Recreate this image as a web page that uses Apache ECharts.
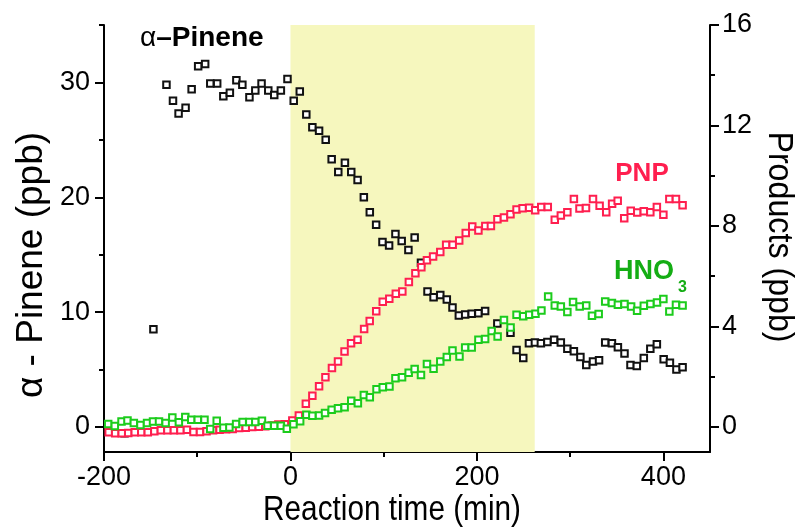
<!DOCTYPE html>
<html>
<head>
<meta charset="utf-8">
<script src="https://cdn.jsdelivr.net/npm/echarts@6/dist/echarts.min.js"></script>
<style>
  html, body { margin: 0; padding: 0; background: #fff; }
  #chart { width: 800px; height: 529px; }
</style>
</head>
<body>
<div id="chart"></div>
<script>
// Reaction time (min) vs concentration, [time, value] pairs.
// alpha-pinene on the left axis (ppb)
const pinene = [
  [-178, -0.55], [-147, 8.5],
  [-133, 29.8], [-126, 28.4], [-120, 27.3], [-112.5, 27.8], [-106, 29.4], [-99, 31.4],
  [-91.5, 31.6], [-86, 29.9], [-78.6, 29.9], [-72, 28.8], [-65, 29.1], [-58, 30.2],
  [-51.6, 29.8], [-44, 28.7], [-37.7, 29.3], [-31, 29.9], [-23.8, 29.3], [-17.4, 28.9],
  [-10.3, 29.3], [-3.2, 30.3], [3.5, 28.4], [10, 29.2], [17, 27.2], [23.5, 26.1],
  [30.7, 25.8], [37.8, 25.0], [44.2, 23.3], [51.3, 22.2], [58.4, 23.0], [65.2, 22.2],
  [72, 21.5], [78.7, 20.0], [85.1, 18.7], [91.9, 17.6], [98.7, 16.1], [105.8, 15.8],
  [112.6, 16.8], [119.3, 16.2], [126.5, 15.4], [133.2, 16.5], [140, 14.3], [147, 11.8],
  [153.5, 11.3], [160.7, 11.5], [167.7, 11.1], [173.8, 10.4], [180.6, 9.7], [187.4, 9.8],
  [194.4, 9.85], [201.6, 9.9], [208.8, 10.1], [221.9, 9.0], [236, 8.2], [242.5, 6.7],
  [249.7, 6.0], [255.8, 7.3], [262.2, 7.35], [268.6, 7.3], [275.6, 7.4], [282.8, 7.6],
  [290, 7.35], [297, 6.8], [304, 6.6], [311, 6.1], [317.3, 5.4], [324.5, 5.7],
  [331, 5.8], [337.6, 7.35], [344.8, 7.3], [351.2, 6.95], [358.3, 6.4], [364.7, 5.4],
  [371.5, 5.3], [379, 6.0], [386, 6.8], [393, 7.2], [400.3, 5.9], [407, 5.6],
  [414, 5.0], [420.6, 5.2]
];

// PNP on the right axis (ppb)
const pnp = [
  [-195, -0.21], [-188, -0.25], [-181, -0.25], [-174, -0.24], [-167, -0.21], [-160, -0.21],
  [-153, -0.21], [-146, -0.17], [-139, -0.13], [-132, -0.13], [-125, -0.13], [-118, -0.13],
  [-111, -0.11], [-104, -0.2], [-97, -0.2], [-90, -0.17], [-83, -0.13], [-76, -0.11],
  [-69, -0.09], [-62, -0.08], [-55, -0.04], [-48, -0.03], [-41, 0.0], [-34, 0.01],
  [-27, 0.03], [-20, 0.06], [-13, 0.09], [-6, 0.1], [2, 0.25], [9, 0.45],
  [16.5, 0.92], [23.5, 1.24], [30.7, 1.62], [37.5, 1.98], [44.5, 2.34], [51, 2.6],
  [58, 3.0], [65, 3.33], [72, 3.47], [79, 3.9], [85, 4.22], [92, 4.6],
  [99, 4.98], [106, 5.1], [113, 5.3], [120, 5.39], [127, 5.77], [134, 6.12],
  [140.4, 6.36], [146.4, 6.63], [153, 6.78], [160.7, 6.96], [167, 7.25], [174, 7.25],
  [181, 7.42], [188, 7.72], [195, 7.98], [201.6, 7.82], [209, 8.0], [215, 8.0],
  [222, 8.27], [229, 8.34], [236, 8.47], [242.5, 8.65], [249, 8.7], [256, 8.72],
  [262.5, 8.62], [269, 8.75], [276, 8.75], [283.5, 8.25], [290, 8.42], [297, 8.55],
  [304, 9.07], [310, 8.69], [317, 8.71], [324.5, 9.07], [331.6, 8.8], [338.7, 8.55],
  [345, 8.88], [351, 9.0], [358, 8.31], [365, 8.6], [372, 8.54], [379, 8.58],
  [386, 8.55], [393, 8.75], [400, 8.45], [406.4, 9.07], [413.5, 9.07], [420.6, 8.82]
];

// HNO3 on the right axis (ppb)
const hno3 = [
  [-195.5, 0.11], [-188.4, 0.04], [-181.2, 0.21], [-174.8, 0.25], [-168, 0.15], [-160.9, 0.07],
  [-153.8, 0.15], [-147.4, 0.21], [-141, 0.21], [-133.9, 0.15], [-126.7, 0.37], [-119.7, 0.18],
  [-112.8, 0.39], [-106.4, 0.28], [-99.4, 0.28], [-92.2, 0.28], [-86.1, -0.08], [-79.1, 0.24],
  [-71.9, -0.03], [-65.5, -0.02], [-58.3, 0.11], [-51.3, 0.19], [-44.1, 0.19], [-37.7, 0.19],
  [-30.6, 0.24], [-24.6, 0.05], [-17.4, 0.05], [-10.3, 0.05], [-3.9, -0.07], [3.2, 0.1],
  [10.4, 0.22], [17.1, 0.48], [23.5, 0.44], [30.7, 0.45], [37.1, 0.55], [44.2, 0.68],
  [51, 0.74], [58.1, 0.78], [65.2, 1.04], [72.3, 0.94], [78.7, 1.27], [85.1, 1.18],
  [92.3, 1.5], [99, 1.58], [106.2, 1.61], [112.6, 1.94], [119.7, 1.98], [126.8, 2.16],
  [133.2, 2.3], [140, 2.07], [146.4, 2.5], [153.5, 2.31], [160.7, 2.6], [167.7, 2.78],
  [173.8, 3.04], [181.3, 2.8], [187.4, 3.16], [194.4, 3.16], [201.6, 3.47], [208.8, 3.5],
  [215.8, 3.82], [222.2, 3.6], [229, 4.26], [236.1, 3.96], [242.5, 4.46], [249.7, 4.4],
  [256.1, 4.46], [262.8, 4.5], [269.2, 4.63], [276.4, 5.19], [283.5, 4.83], [290, 4.79],
  [297, 4.57], [303.1, 4.97], [310.2, 4.79], [317.3, 4.83], [323.4, 4.42], [330.6, 4.49],
  [337.6, 4.99], [344.8, 4.93], [351.2, 4.86], [358.3, 4.89], [365.4, 4.79], [371.8, 4.62],
  [379, 4.82], [386.1, 4.89], [393.2, 4.95], [400, 5.09], [406.4, 4.59], [413.5, 4.86],
  [420.6, 4.83]
];

// Reaction period shaded on the time axis
const reactionWindow = [0, 262];

// Tick positions
const xLabelTicks = [-200, 0, 200, 400];
const xMinorTicks = [-100, 100, 300];
const leftLabelTicks = [0, 10, 20, 30];
const leftMinorTicks = [5, 15, 25, 35];
const rightLabelTicks = [0, 4, 8, 12, 16];
const rightMinorTicks = [2, 6, 10, 14];

const FONT = '"Liberation Sans", Arial, Helvetica, sans-serif';
const BLACK = '#111111';
const RED = '#ff1f4f';
const GREEN = '#1ccc1c';
const TEXT_GREEN = '#14ad14';

const X_RANGE = { min: -200, max: 450 };
const LEFT_RANGE = { min: -2.18, max: 35 };
const RIGHT_RANGE = { min: -1, max: 16 };

const lineStyle = { color: '#000', width: 2 };

function majorAxis(range, ticks, position, margin) {
  return {
    type: 'value', position, min: range.min, max: range.max,
    axisLine: { show: true, onZero: false, lineStyle },
    axisTick: { show: true, customValues: ticks, length: 9, lineStyle },
    axisLabel: { customValues: ticks, color: '#000', fontSize: 27, fontFamily: FONT, margin },
    splitLine: { show: false }
  };
}
function minorAxis(range, ticks, position) {
  return {
    type: 'value', position, min: range.min, max: range.max,
    axisLine: { show: false, onZero: false },
    axisTick: { show: true, customValues: ticks, length: 5, lineStyle },
    axisLabel: { show: false },
    splitLine: { show: false }
  };
}

function squares(name, data, color, yAxisIndex) {
  return {
    name, type: 'scatter', data, xAxisIndex: 0, yAxisIndex,
    symbol: 'rect', symbolSize: 6.5,
    itemStyle: { color: '#fff', borderColor: color, borderWidth: 2, opacity: 1 },
    z: 3, silent: true
  };
}

const chart = echarts.init(document.getElementById('chart'), null, { renderer: 'canvas' });
chart.setOption({
  animation: false,
  backgroundColor: '#fff',
  grid: { left: 104, right: 90, top: 25, bottom: 77, containLabel: false },
  xAxis: [
    majorAxis(X_RANGE, xLabelTicks, 'bottom', 12),
    minorAxis(X_RANGE, xMinorTicks, 'bottom')
  ],
  yAxis: [
    majorAxis(LEFT_RANGE, leftLabelTicks, 'left', 14),
    majorAxis(RIGHT_RANGE, rightLabelTicks, 'right', 12),
    minorAxis(LEFT_RANGE, leftMinorTicks, 'left'),
    minorAxis(RIGHT_RANGE, rightMinorTicks, 'right')
  ],
  series: [
    {
      name: 'reaction', type: 'scatter', data: [], xAxisIndex: 0, yAxisIndex: 0, z: 1,
      markArea: {
        silent: true,
        itemStyle: { color: '#f6f7be' },
        data: [[{ xAxis: reactionWindow[0] }, { xAxis: reactionWindow[1] }]]
      }
    },
    squares('α-Pinene', pinene, BLACK, 0),
    squares('PNP', pnp, RED, 1),
    squares('HNO3', hno3, GREEN, 1)
  ],
  graphic: [
    {
      type: 'text', x: 32, y: 265, rotation: Math.PI / 2,
      style: { text: 'α - Pinene (ppb)', font: '37px ' + FONT, fill: '#000', align: 'center', verticalAlign: 'middle' }
    },
    {
      type: 'text', x: 779, y: 237, rotation: -Math.PI / 2, scaleX: 0.92,
      style: { text: 'Products (ppb)', font: '35px ' + FONT, fill: '#000', align: 'center', verticalAlign: 'middle' }
    },
    {
      type: 'text', x: 392, y: 510, scaleX: 0.85,
      style: { text: 'Reaction time (min)', font: '35px ' + FONT, fill: '#000', align: 'center', verticalAlign: 'middle' }
    },
    {
      type: 'text', x: 140, y: 38, z: 10,
      style: {
        text: '{a|α}{b|–Pinene}', align: 'left', verticalAlign: 'middle',
        rich: {
          a: { fontFamily: FONT, fontSize: 28, fill: '#000' },
          b: { fontFamily: FONT, fontSize: 28, fontWeight: 'bold', fill: '#000' }
        }
      }
    },
    {
      type: 'text', x: 642, y: 174, z: 10,
      style: { text: 'PNP', font: 'bold 26px ' + FONT, fill: RED, align: 'center', verticalAlign: 'middle' }
    },
    {
      type: 'text', x: 614, y: 272, z: 10,
      style: { text: 'HNO', font: 'bold 27px ' + FONT, fill: TEXT_GREEN, align: 'left', verticalAlign: 'middle' }
    },
    {
      type: 'text', x: 678, y: 288, z: 10,
      style: { text: '3', font: 'bold 16px ' + FONT, fill: TEXT_GREEN, align: 'left', verticalAlign: 'middle' }
    }
  ]
});
</script>
</body>
</html>
